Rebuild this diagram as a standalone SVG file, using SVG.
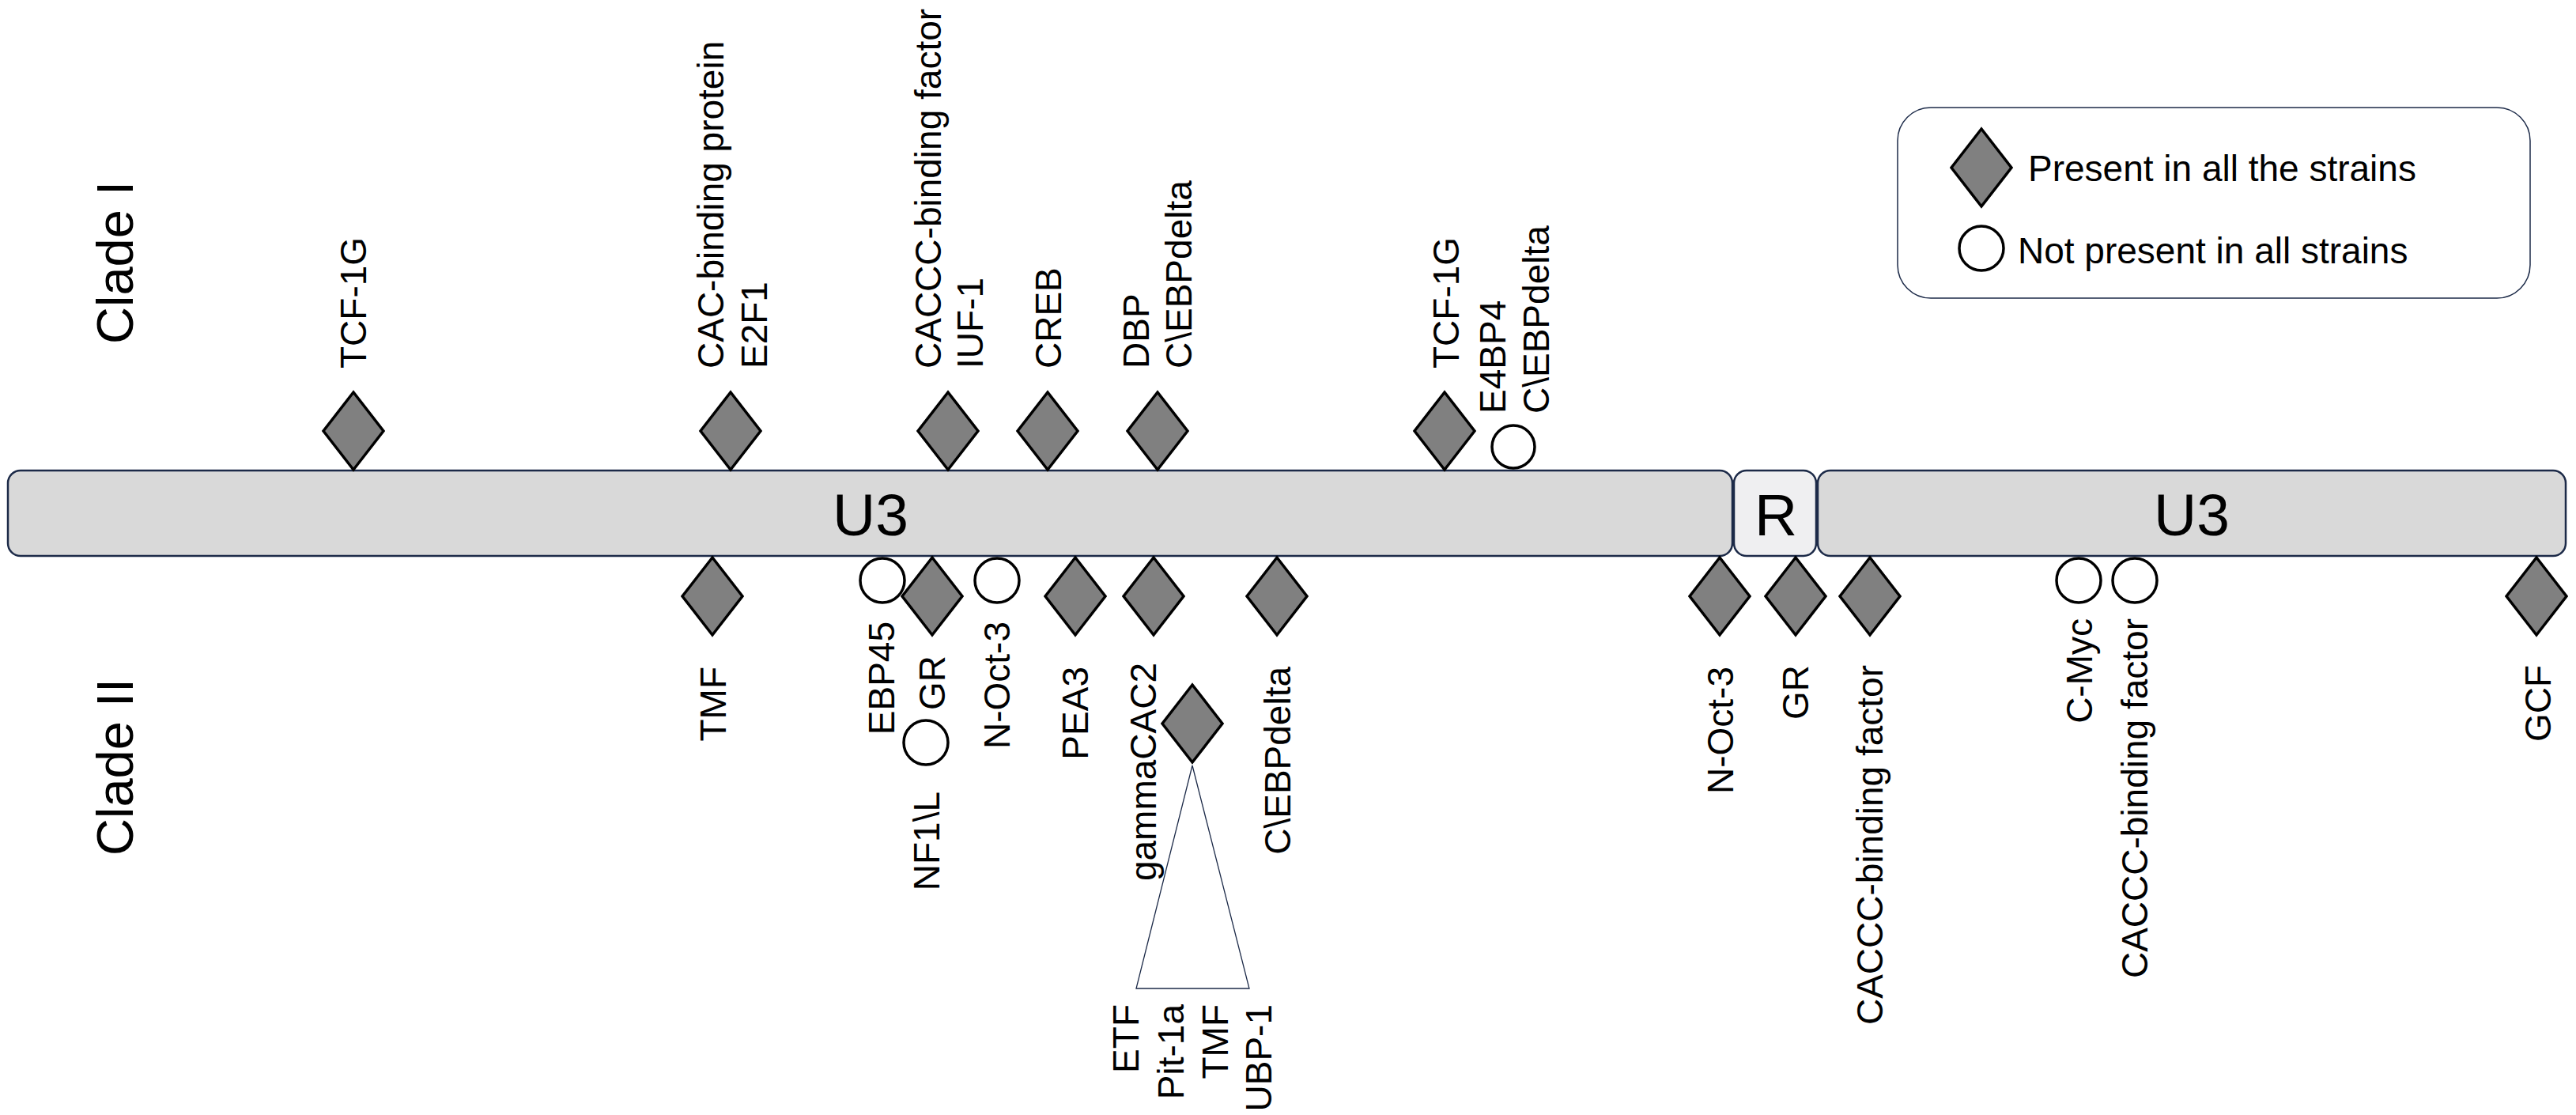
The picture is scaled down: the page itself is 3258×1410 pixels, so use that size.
<svg xmlns="http://www.w3.org/2000/svg" width="3258" height="1410" viewBox="0 0 3258 1410">
<style>
text { font-family: "Liberation Sans", Arial, sans-serif; fill: #000; }
.lbl { font-size: 46px; }
.clade { font-size: 65px; }
.seg { font-size: 75px; text-anchor: middle; }
.bar { fill: #d9d9d9; stroke: #1c2a48; stroke-width: 2.5; }
.barR { fill: #efeff1; stroke: #1c2a48; stroke-width: 2.5; }
.dia { fill: #808080; stroke: #000; stroke-width: 3.5; stroke-linejoin: miter; }
.cir { fill: #fff; stroke: #000; stroke-width: 3.5; }
.end { text-anchor: end; }
</style>
<defs>
<polygon id="d" points="0,-49 38,0 0,49 -38,0"/>
</defs>
<rect width="3258" height="1410" fill="#fff"/>

<g id="clade-labels">
<text class="clade" text-anchor="middle" transform="translate(168,332) rotate(-90)">Clade I</text>
<text class="clade" text-anchor="middle" transform="translate(168,970) rotate(-90)">Clade II</text>
</g>

<g id="ltr">
<g id="u3-left"><rect class="bar" x="10" y="595" width="2181" height="108" rx="16"/><text class="seg" x="1101" y="677">U3</text></g>
<g id="r"><rect class="barR" x="2193" y="595" width="104" height="108" rx="16"/><text class="seg" x="2246" y="677">R</text></g>
<g id="u3-right"><rect class="bar" x="2299" y="595" width="946" height="108" rx="16"/><text class="seg" x="2772" y="677">U3</text></g>
</g>

<g id="connectors">
<polygon points="1508,968 1437,1250 1580,1250" fill="#fff" stroke="#1c2a48" stroke-width="1.3"/>
</g>

<g id="clade1-sites">
<g id="s-tcf1g-a"><use href="#d" class="dia" x="447" y="545"/><text class="lbl" transform="translate(463,466) rotate(-90)">TCF-1G</text></g>
<g id="s-cac"><use href="#d" class="dia" x="924" y="545"/><text class="lbl" transform="translate(915,466) rotate(-90)">CAC-binding protein</text><text class="lbl" transform="translate(970,466) rotate(-90)">E2F1</text></g>
<g id="s-caccc-a"><use href="#d" class="dia" x="1199" y="545"/><text class="lbl" transform="translate(1190,466) rotate(-90)">CACCC-binding factor</text><text class="lbl" transform="translate(1243,466) rotate(-90)">IUF-1</text></g>
<g id="s-creb"><use href="#d" class="dia" x="1325" y="545"/><text class="lbl" transform="translate(1342,466) rotate(-90)">CREB</text></g>
<g id="s-dbp"><use href="#d" class="dia" x="1464" y="545"/><text class="lbl" transform="translate(1453,466) rotate(-90)">DBP</text><text class="lbl" transform="translate(1507,466) rotate(-90)">C\EBPdelta</text></g>
<g id="s-tcf1g-b"><use href="#d" class="dia" x="1827" y="545"/><text class="lbl" transform="translate(1845,466) rotate(-90)">TCF-1G</text></g>
<g id="s-e4bp4"><circle class="cir" cx="1914" cy="565" r="27"/><text class="lbl" transform="translate(1904,523) rotate(-90)">E4BP4</text><text class="lbl" transform="translate(1959,523) rotate(-90)">C\EBPdelta</text></g>
</g>

<g id="clade2-sites">
<g id="s-tmf"><use href="#d" class="dia" x="901" y="754"/><text class="lbl end" transform="translate(918,843) rotate(-90)">TMF</text></g>
<g id="s-ebp45"><circle class="cir" cx="1116" cy="734" r="28"/><text class="lbl end" transform="translate(1131,786) rotate(-90)">EBP45</text></g>
<g id="s-gr-a"><use href="#d" class="dia" x="1179" y="754"/><text class="lbl end" transform="translate(1195,829) rotate(-90)">GR</text></g>
<g id="s-nf1l"><circle class="cir" cx="1171" cy="939" r="28"/><text class="lbl end" transform="translate(1188,1001) rotate(-90)">NF1\L</text></g>
<g id="s-noct3-a"><circle class="cir" cx="1261" cy="734" r="28"/><text class="lbl end" transform="translate(1277,786) rotate(-90)">N-Oct-3</text></g>
<g id="s-pea3"><use href="#d" class="dia" x="1360" y="754"/><text class="lbl end" transform="translate(1376,843) rotate(-90)">PEA3</text></g>
<g id="s-gammacac2"><use href="#d" class="dia" x="1459" y="754"/><text class="lbl end" transform="translate(1462,838) rotate(-90)">gammaCAC2</text></g>
<g id="s-cluster"><use href="#d" class="dia" x="1508" y="915"/>
<text class="lbl end" transform="translate(1440,1270) rotate(-90)">ETF</text>
<text class="lbl end" transform="translate(1497,1270) rotate(-90)">Pit-1a</text>
<text class="lbl end" transform="translate(1553,1270) rotate(-90)">TMF</text>
<text class="lbl end" transform="translate(1608,1270) rotate(-90)">UBP-1</text></g>
<g id="s-cebpd"><use href="#d" class="dia" x="1615" y="754"/><text class="lbl end" transform="translate(1632,843) rotate(-90)">C\EBPdelta</text></g>
<g id="s-noct3-b"><use href="#d" class="dia" x="2175" y="754"/><text class="lbl end" transform="translate(2192,843) rotate(-90)">N-Oct-3</text></g>
<g id="s-gr-b"><use href="#d" class="dia" x="2271" y="754"/><text class="lbl end" transform="translate(2287,841) rotate(-90)">GR</text></g>
<g id="s-caccc-b"><use href="#d" class="dia" x="2365" y="754"/><text class="lbl end" transform="translate(2381,841) rotate(-90)">CACCC-binding factor</text></g>
<g id="s-cmyc"><circle class="cir" cx="2629" cy="734" r="28"/><text class="lbl end" transform="translate(2646,782) rotate(-90)">C-Myc</text></g>
<g id="s-caccc-c"><circle class="cir" cx="2700" cy="734" r="28"/><text class="lbl end" transform="translate(2716,782) rotate(-90)">CACCC-binding factor</text></g>
<g id="s-gcf"><use href="#d" class="dia" x="3208" y="754"/><text class="lbl end" transform="translate(3226,841) rotate(-90)">GCF</text></g>
</g>

<g id="legend">
<rect x="2400" y="136" width="800" height="241" rx="42" fill="#fff" stroke="#1c2a48" stroke-width="1.5"/>
<use href="#d" class="dia" x="2506" y="212"/>
<text class="lbl" x="2565" y="229">Present in all the strains</text>
<circle class="cir" cx="2506" cy="314" r="28"/>
<text class="lbl" x="2552" y="333">Not present in all strains</text>
</g>
</svg>
